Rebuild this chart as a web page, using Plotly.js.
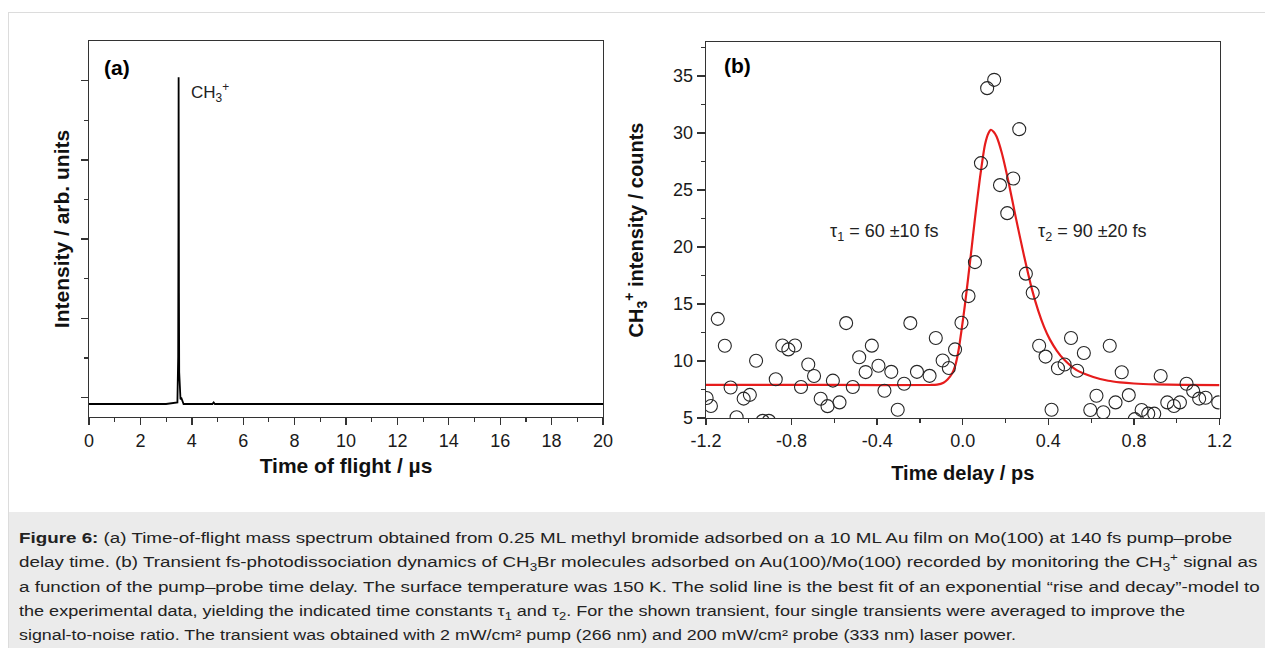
<!DOCTYPE html>
<html>
<head>
<meta charset="utf-8">
<script src="https://cdn.plot.ly/plotly-3.0.1.min.js"></script>
<style>
  html, body { margin: 0; padding: 0; background: #ffffff; width: 1265px; height: 648px; overflow: hidden; }
  #frame { position: absolute; left: 8px; top: 12px; width: 1257px; height: 500px; border-top: 1px solid #dcdcdc; border-left: 1px solid #dcdcdc; background: #ffffff; }
  #chart { position: absolute; left: 0; top: 0; width: 1265px; height: 510px; }
  #capbox { position: absolute; left: 8px; top: 512px; width: 1257px; height: 136px; background: #ebebeb; border-left: 1px solid #dcdcdc; box-sizing: border-box; overflow: hidden; }
  #caption { position: absolute; left: 10px; top: 14px;
    font-family: "Liberation Sans", Arial, sans-serif; font-size: 14px; line-height: 24.3px; color: #222; white-space: nowrap; }
  #caption .ln { height: 24.3px; transform-origin: 0 0; }
  #caption sub, #caption sup { font-size: 10px; line-height: 0; }
</style>
</head>
<body>
<div id="frame"></div>
<div id="chart"></div>
<div id="capbox"><div id="caption">
<div class="ln" style="transform: scaleX(1.342)"><b>Figure 6:</b> (a) Time-of-flight mass spectrum obtained from 0.25 ML methyl bromide adsorbed on a 10 ML Au film on Mo(100) at 140 fs pump–probe</div>
<div class="ln" style="transform: scaleX(1.342)">delay time. (b) Transient fs-photodissociation dynamics of CH<sub>3</sub>Br molecules adsorbed on Au(100)/Mo(100) recorded by monitoring the CH<sub>3</sub><sup>+</sup> signal as</div>
<div class="ln" style="transform: scaleX(1.342)">a function of the pump–probe time delay. The surface temperature was 150 K. The solid line is the best fit of an exponential “rise and decay”-model to</div>
<div class="ln" style="transform: scaleX(1.289)">the experimental data, yielding the indicated time constants τ<sub>1</sub> and τ<sub>2</sub>. For the shown transient, four single transients were averaged to improve the</div>
<div class="ln" style="transform: scaleX(1.274)">signal-to-noise ratio. The transient was obtained with 2 mW/cm² pump (266 nm) and 200 mW/cm² probe (333 nm) laser power.</div>
</div></div>
<script>
// ---- Panel (a): time-of-flight mass spectrum ----
const tofTime = [0, 3.0, 3.44, 3.47, 3.48, 3.487, 3.493, 3.50, 3.51, 3.53, 3.56, 3.60, 3.63, 3.68, 4.8, 4.85, 4.9, 20];
const tofIntensity = [0, 0, 0.02, 0.6, 2.2, 4.12, 3.1, 1.4, 0.4, 0.12, 0.06, 0.07, 0.03, 0, 0, 0.02, 0, 0];

// ---- Panel (b): transient (time delay / ps, CH3+ counts) ----
const delay = [-1.197, -1.177, -1.145, -1.112, -1.085, -1.057, -1.024, -0.995, -0.966, -0.935, -0.906,
  -0.874, -0.843, -0.815, -0.784, -0.756, -0.722, -0.695, -0.664, -0.632, -0.607, -0.576, -0.545, -0.514,
  -0.484, -0.454, -0.425, -0.394, -0.366, -0.334, -0.304, -0.274, -0.245, -0.214, -0.155, -0.126, -0.094,
  -0.065, -0.036, -0.006, 0.027, 0.057, 0.085, 0.114, 0.147, 0.174, 0.208, 0.236, 0.264, 0.295, 0.327,
  0.357, 0.387, 0.415, 0.445, 0.476, 0.506, 0.535, 0.566, 0.596, 0.625, 0.657, 0.687, 0.714, 0.743,
  0.776, 0.804, 0.836, 0.867, 0.895, 0.925, 0.956, 0.987, 1.015, 1.046, 1.077, 1.105, 1.135, 1.194];
const counts = [6.75, 6.05, 13.7, 11.34, 7.68, 5.07, 6.7, 7.03, 10.03, 4.75, 4.75,
  8.4, 11.36, 11.02, 11.36, 7.72, 9.7, 8.68, 6.69, 6.04, 8.28, 6.37, 13.33, 7.72,
  10.33, 9.03, 11.35, 9.59, 7.39, 9.05, 5.73, 8.01, 13.33, 9.05, 8.7, 12.02, 10.04,
  9.39, 11.02, 13.36, 15.7, 18.68, 27.37, 33.95, 34.68, 25.44, 22.98, 26.02, 30.35, 17.67, 16.0,
  11.34, 10.39, 5.73, 9.37, 9.69, 12.02, 9.15, 10.7, 5.7, 6.95, 5.5, 11.34, 6.37, 9.02,
  7.01, 4.9, 5.7, 5.38, 5.38, 8.68, 6.37, 6.05, 6.37, 8.0, 7.36, 6.7, 6.78, 6.37];

// fitted "rise and decay" curve
const fitDelay = [-1.2, -0.6, -0.15, -0.12, -0.09, -0.07, -0.05, -0.035, -0.02, -0.005, 0.01, 0.026, 0.042,
  0.057, 0.08, 0.104, 0.12, 0.132, 0.145, 0.158, 0.182, 0.213, 0.249, 0.288, 0.322, 0.353, 0.38, 0.407,
  0.44, 0.47, 0.532, 0.61, 0.68, 0.735, 0.8, 0.9, 1.03, 1.2];
const fitCounts = [7.9, 7.9, 7.9, 7.93, 8.1, 8.4, 8.9, 9.6, 10.9, 12.8, 14.9, 17.4, 20.0,
  22.5, 26.0, 29.0, 30.0, 30.3, 30.1, 29.7, 28.3, 25.8, 22.5, 19.1, 16.4, 14.4, 13.0, 11.9,
  10.9, 10.2, 9.2, 8.6, 8.27, 8.13, 8.03, 7.95, 7.9, 7.88];

const xTickValsB = [-1.2, -0.8, -0.4, 0.0, 0.4, 0.8, 1.2];
const xTickTextB = ["-1.2", "-0.8", "-0.4", "0.0", "0.4", "0.8", "1.2"];

const FONT = "Liberation Sans, Arial, sans-serif";
const AX = "#333333";
const W = 1265, H = 510;

const traces = [
  { x: tofTime, y: tofIntensity, type: "scatter", mode: "lines", xaxis: "x", yaxis: "y",
    line: { color: "#000000", width: 1.8 }, hoverinfo: "skip" },
  { x: fitDelay, y: fitCounts, type: "scatter", mode: "lines", xaxis: "x2", yaxis: "y2",
    line: { color: "#e61c1c", width: 2.2, shape: "spline", smoothing: 0.6 } },
  { x: delay, y: counts, type: "scatter", mode: "markers", xaxis: "x2", yaxis: "y2",
    marker: { symbol: "circle-open", size: 13, color: "#262626", line: { width: 1.1 } } }
];

const common = {
  showgrid: false, zeroline: false, showline: true, linecolor: AX, linewidth: 1.4, mirror: true,
  ticks: "outside", tickcolor: AX, tickwidth: 1.4, ticklen: 7,
  tickfont: { family: FONT, size: 18, color: "#1a1a1a" }
};
const titleFont = (s) => ({ family: FONT, size: s, color: "#111", weight: "bold" });

const layout = {
  width: W, height: H, margin: { l: 0, r: 0, t: 0, b: 0 },
  paper_bgcolor: "rgba(0,0,0,0)", plot_bgcolor: "rgba(0,0,0,0)",
  showlegend: false,
  font: { family: FONT, color: "#111111" },
  xaxis: Object.assign({}, common, {
    domain: [89 / W, 603 / W], range: [0, 20], tick0: 0, dtick: 2,
    minor: { dtick: 1, ticklen: 4, tickcolor: AX, tickwidth: 1.2 },
    title: { text: "Time of flight / µs", font: titleFont(21), standoff: 8 },
    anchor: "y"
  }),
  yaxis: Object.assign({}, common, {
    domain: [(H - 417) / H, (H - 41) / H], range: [-0.164, 4.577], tick0: 0.079, dtick: 1,
    showticklabels: false,
    minor: { dtick: 0.5, tick0: 0.079, ticklen: 4, tickcolor: AX, tickwidth: 1.2 },
    title: { text: "Intensity / arb. units", font: titleFont(21), standoff: 5 },
    anchor: "x"
  }),
  xaxis2: Object.assign({}, common, {
    domain: [706 / W, 1219.5 / W], range: [-1.2, 1.2], tickmode: "array",
    tickvals: xTickValsB, ticktext: xTickTextB, ticklen: 6,
    minor: { tickmode: "linear", tick0: -1.2, dtick: 0.2, ticklen: 4, tickcolor: AX, tickwidth: 1.2 },
    title: { text: "Time delay / ps", font: titleFont(20), standoff: 16 },
    anchor: "y2"
  }),
  yaxis2: Object.assign({}, common, {
    domain: [(H - 418) / H, (H - 42) / H], range: [5, 38], tick0: 0, dtick: 5, ticklen: 8,
    minor: { dtick: 2.5, tick0: 0, ticklen: 4, tickcolor: AX, tickwidth: 1.2 },
    title: { text: "CH<sub>3</sub><sup>+</sup> intensity / counts", font: titleFont(20), standoff: 24 },
    anchor: "x2"
  }),
  annotations: [
    { xref: "x", yref: "y", x: 0.5, y: 4.24, text: "<b>(a)</b>", showarrow: false, xanchor: "left", yanchor: "middle",
      xshift: 0, font: { family: FONT, size: 21, color: "#000" } },
    { xref: "x", yref: "y", x: 3.49, y: 3.93, text: "CH<sub>3</sub><sup>+</sup>", showarrow: false, xanchor: "left", yanchor: "middle",
      xshift: 10, font: { family: FONT, size: 17, color: "#222" } },
    { xref: "x2", yref: "y2", x: -1.2, y: 35.9, text: "<b>(b)</b>", showarrow: false, xanchor: "left", yanchor: "middle",
      xshift: 16, font: { family: FONT, size: 21, color: "#000" } },
    { xref: "x2", yref: "y2", x: -0.63, y: 21.27, text: "τ<sub>1</sub> = 60 ±10 fs", showarrow: false, xanchor: "left", yanchor: "middle",
      font: { family: FONT, size: 18, color: "#222" } },
    { xref: "x2", yref: "y2", x: 0.343, y: 21.27, text: "τ<sub>2</sub> = 90 ±20 fs", showarrow: false, xanchor: "left", yanchor: "middle",
      font: { family: FONT, size: 18, color: "#222" } }
  ]
};

Plotly.newPlot("chart", traces, layout, { staticPlot: true, displayModeBar: false });
</script>
</body>
</html>
